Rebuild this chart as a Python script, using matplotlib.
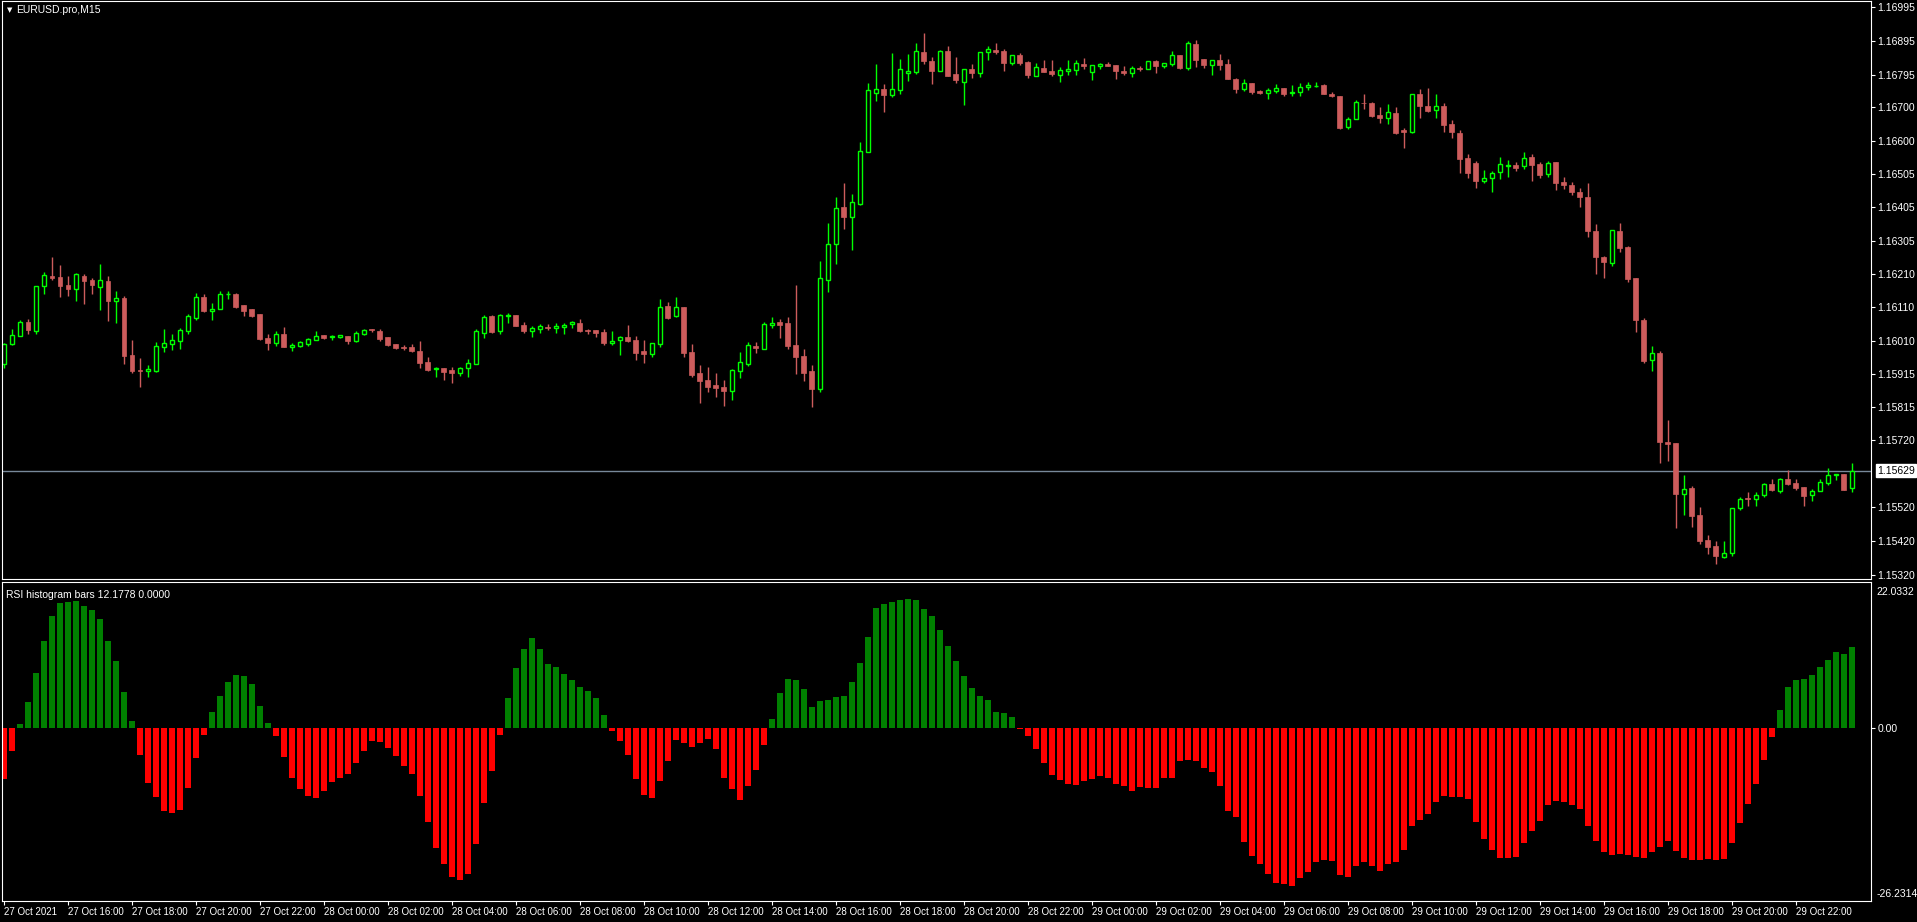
import matplotlib
matplotlib.use("Agg")
import matplotlib.pyplot as plt
import numpy as np
import pandas as pd

plt.rcParams["font.family"] = ["Liberation Sans", "DejaVu Sans"]

# EURUSD M15 candles, 27 Oct 2021 14:00 -> 29 Oct 2021 23:45
opens = [
 1.15942,1.16003,1.16027,1.16067,1.16041,1.16174,1.16203,1.16200,1.16176,1.16165,
 1.16203,1.16191,1.16171,1.16188,1.16130,1.16138,1.15970,1.15925,1.15924,1.15923,
 1.15994,1.16003,1.16012,1.16041,1.16079,1.16141,1.16100,1.16106,1.16149,1.16150,
 1.16117,1.16105,1.16091,1.16020,1.16005,1.16032,1.15994,1.15996,1.16003,1.16015,
 1.16029,1.16023,1.16023,1.16026,1.16011,1.16033,1.16046,1.16041,1.16023,1.16002,
 1.15993,1.15993,1.15982,1.15949,1.15927,1.15931,1.15925,1.15917,1.15931,1.15943,
 1.16036,1.16085,1.16041,1.16086,1.16088,1.16058,1.16041,1.16046,1.16052,1.16050,
 1.16053,1.16061,1.16064,1.16044,1.16043,1.16038,1.16006,1.16013,1.16023,1.16014,
 1.15982,1.15974,1.16003,1.16114,1.16084,1.16111,1.15979,1.15917,1.15896,1.15881,
 1.15875,1.15863,1.15923,1.15944,1.15996,1.15988,1.16059,1.16067,1.16064,1.15999,
 1.15967,1.15923,1.15869,1.16191,1.16297,1.16406,1.16377,1.16415,1.16569,1.16743,
 1.16754,1.16737,1.16751,1.16803,1.16805,1.16864,1.16837,1.16807,1.16867,1.16799,
 1.16776,1.16813,1.16803,1.16863,1.16869,1.16867,1.16832,1.16855,1.16834,1.16794,
 1.16816,1.16808,1.16797,1.16808,1.16811,1.16828,1.16806,1.16823,1.16828,1.16825,
 1.16808,1.16803,1.16816,1.16814,1.16837,1.16823,1.16829,1.16855,1.16816,1.16887,
 1.16843,1.16826,1.16840,1.16828,1.16784,1.16755,1.16772,1.16749,1.16744,1.16749,
 1.16758,1.16743,1.16746,1.16760,1.16762,1.16765,1.16741,1.16733,1.16641,1.16665,
 1.16714,1.16712,1.16679,1.16669,1.16685,1.16632,1.16629,1.16741,1.16705,1.16692,
 1.16705,1.16650,1.16626,1.16552,1.16537,1.16482,1.16491,1.16510,1.16528,1.16531,
 1.16528,1.16554,1.16532,1.16503,1.16538,1.16481,1.16470,1.16452,1.16435,1.16336,
 1.16258,1.16240,1.16336,1.16289,1.16196,1.16074,1.15956,1.15977,1.15713,1.15711,
 1.15560,1.15577,1.15498,1.15423,1.15406,1.15373,1.15387,1.15519,1.15548,1.15546,
 1.15557,1.15590,1.15569,1.15603,1.15593,1.15579,1.15557,1.15569,1.15593,1.15615,
 1.15620,1.15577]
highs = [
 1.16006,1.16045,1.16073,1.16075,1.16174,1.16215,1.16259,1.16235,1.16203,1.16212,
 1.16209,1.16197,1.16238,1.16203,1.16159,1.16144,1.16014,1.15961,1.15940,1.16008,
 1.16046,1.16032,1.16049,1.16091,1.16153,1.16150,1.16123,1.16159,1.16159,1.16152,
 1.16118,1.16106,1.16092,1.16032,1.16041,1.16052,1.16005,1.16012,1.16021,1.16041,
 1.16029,1.16030,1.16029,1.16026,1.16041,1.16046,1.16046,1.16046,1.16023,1.16002,
 1.15999,1.16002,1.16011,1.15964,1.15934,1.15931,1.15934,1.15934,1.15958,1.16046,
 1.16088,1.16088,1.16091,1.16094,1.16088,1.16067,1.16055,1.16061,1.16061,1.16064,
 1.16064,1.16070,1.16076,1.16046,1.16043,1.16046,1.16041,1.16026,1.16058,1.16026,
 1.16014,1.16006,1.16135,1.16126,1.16141,1.16112,1.16002,1.15940,1.15934,1.15917,
 1.15896,1.15928,1.15979,1.16008,1.16008,1.16067,1.16082,1.16076,1.16082,1.16176,
 1.15987,1.15940,1.16247,1.16359,1.16436,1.16477,1.16445,1.16598,1.16772,1.16828,
 1.16769,1.16861,1.16843,1.16857,1.16890,1.16920,1.16849,1.16869,1.16881,1.16849,
 1.16813,1.16828,1.16864,1.16881,1.16890,1.16872,1.16855,1.16861,1.16837,1.16831,
 1.16840,1.16840,1.16819,1.16840,1.16840,1.16846,1.16825,1.16831,1.16834,1.16825,
 1.16822,1.16822,1.16822,1.16837,1.16840,1.16831,1.16867,1.16855,1.16896,1.16899,
 1.16843,1.16840,1.16858,1.16843,1.16787,1.16784,1.16772,1.16751,1.16758,1.16768,
 1.16758,1.16766,1.16772,1.16775,1.16775,1.16768,1.16747,1.16735,1.16672,1.16723,
 1.16741,1.16717,1.16701,1.16711,1.16700,1.16640,1.16740,1.16754,1.16758,1.16741,
 1.16714,1.16664,1.16632,1.16564,1.16543,1.16516,1.16514,1.16554,1.16546,1.16539,
 1.16570,1.16562,1.16540,1.16543,1.16540,1.16496,1.16481,1.16461,1.16478,1.16357,
 1.16263,1.16339,1.16360,1.16290,1.16196,1.16078,1.15995,1.15982,1.15777,1.15711,
 1.15617,1.15582,1.15520,1.15440,1.15421,1.15421,1.15519,1.15552,1.15567,1.15567,
 1.15592,1.15604,1.15606,1.15630,1.15603,1.15581,1.15574,1.15605,1.15635,1.15620,
 1.15620,1.15651]
lows = [
 1.15932,1.15999,1.16026,1.16033,1.16033,1.16151,1.16192,1.16142,1.16144,1.16129,
 1.16121,1.16151,1.16102,1.16070,1.16065,1.15944,1.15918,1.15876,1.15906,1.15920,
 1.15979,1.15985,1.15988,1.16033,1.16074,1.16097,1.16073,1.16106,1.16136,1.16109,
 1.16085,1.16082,1.16013,1.15984,1.15996,1.15993,1.15982,1.15993,1.15996,1.16013,
 1.16017,1.16014,1.16020,1.16002,1.16008,1.16029,1.16038,1.16011,1.15996,1.15987,
 1.15984,1.15979,1.15931,1.15922,1.15905,1.15896,1.15887,1.15908,1.15905,1.15943,
 1.16020,1.16035,1.16032,1.16064,1.16055,1.16035,1.16023,1.16035,1.16043,1.16035,
 1.16032,1.16049,1.16038,1.16032,1.16023,1.15999,1.15999,1.15970,1.16008,1.15956,
 1.15947,1.15965,1.15994,1.16076,1.16082,1.15965,1.15905,1.15828,1.15861,1.15846,
 1.15819,1.15837,1.15903,1.15938,1.15976,1.15988,1.16049,1.16019,1.15987,1.15914,
 1.15893,1.15816,1.15861,1.16156,1.16238,1.16341,1.16279,1.16412,1.16569,1.16719,
 1.16687,1.16731,1.16740,1.16778,1.16799,1.16828,1.16769,1.16807,1.16793,1.16772,
 1.16707,1.16787,1.16790,1.16840,1.16858,1.16808,1.16825,1.16825,1.16787,1.16793,
 1.16805,1.16793,1.16775,1.16796,1.16796,1.16813,1.16781,1.16813,1.16822,1.16784,
 1.16796,1.16790,1.16808,1.16814,1.16802,1.16816,1.16822,1.16813,1.16810,1.16819,
 1.16816,1.16796,1.16810,1.16784,1.16743,1.16749,1.16740,1.16740,1.16725,1.16743,
 1.16735,1.16735,1.16735,1.16751,1.16759,1.16739,1.16731,1.16637,1.16635,1.16665,
 1.16696,1.16673,1.16655,1.16651,1.16623,1.16579,1.16624,1.16668,1.16688,1.16668,
 1.16627,1.16609,1.16506,1.16491,1.16461,1.16477,1.16450,1.16488,1.16494,1.16512,
 1.16517,1.16482,1.16491,1.16496,1.16456,1.16458,1.16441,1.16407,1.16319,1.16210,
 1.16197,1.16232,1.16273,1.16185,1.16039,1.15945,1.15922,1.15652,1.15656,1.15459,
 1.15497,1.15462,1.15412,1.15382,1.15352,1.15370,1.15378,1.15512,1.15524,1.15524,
 1.15550,1.15568,1.15563,1.15587,1.15571,1.15524,1.15539,1.15569,1.15587,1.15601,
 1.15571,1.15566]
closes = [
 1.16001,1.16028,1.16067,1.16043,1.16172,1.16205,1.16197,1.16174,1.16165,1.16209,
 1.16188,1.16176,1.16190,1.16129,1.16138,1.15967,1.15922,1.15923,1.15928,1.15995,
 1.16004,1.16014,1.16043,1.16084,1.16140,1.16100,1.16105,1.16150,1.16151,1.16111,
 1.16100,1.16085,1.16017,1.16005,1.16032,1.15993,1.16000,1.16008,1.16017,1.16026,
 1.16020,1.16027,1.16028,1.16011,1.16035,1.16043,1.16043,1.16017,1.15999,1.15990,
 1.15991,1.15982,1.15946,1.15925,1.15931,1.15920,1.15917,1.15931,1.15946,1.16041,
 1.16082,1.16038,1.16088,1.16088,1.16055,1.16041,1.16049,1.16055,1.16050,1.16055,
 1.16058,1.16066,1.16041,1.16042,1.16035,1.16005,1.16011,1.16022,1.16011,1.15976,
 1.15972,1.16004,1.16111,1.16079,1.16111,1.15977,1.15911,1.15893,1.15875,1.15872,
 1.15863,1.15925,1.15949,1.15999,1.15990,1.16061,1.16064,1.16058,1.15996,1.15964,
 1.15917,1.15869,1.16197,1.16297,1.16403,1.16377,1.16421,1.16572,1.16751,1.16754,
 1.16737,1.16754,1.16813,1.16808,1.16867,1.16837,1.16808,1.16867,1.16793,1.16781,
 1.16813,1.16802,1.16864,1.16872,1.16864,1.16831,1.16855,1.16831,1.16796,1.16819,
 1.16805,1.16799,1.16810,1.16812,1.16831,1.16822,1.16825,1.16828,1.16822,1.16808,
 1.16802,1.16816,1.16813,1.16837,1.16822,1.16831,1.16855,1.16816,1.16890,1.16840,
 1.16825,1.16840,1.16825,1.16784,1.16754,1.16772,1.16746,1.16743,1.16751,1.16757,
 1.16741,1.16746,1.16761,1.16765,1.16764,1.16741,1.16733,1.16640,1.16666,1.16717,
 1.16712,1.16676,1.16668,1.16687,1.16626,1.16628,1.16740,1.16703,1.16690,1.16705,
 1.16647,1.16627,1.16549,1.16506,1.16482,1.16493,1.16508,1.16534,1.16531,1.16520,
 1.16551,1.16530,1.16502,1.16537,1.16476,1.16471,1.16450,1.16436,1.16335,1.16259,
 1.16243,1.16338,1.16284,1.16193,1.16072,1.15953,1.15976,1.15712,1.15706,1.15561,
 1.15575,1.15496,1.15421,1.15403,1.15376,1.15387,1.15517,1.15546,1.15546,1.15558,
 1.15589,1.15571,1.15603,1.15590,1.15577,1.15553,1.15569,1.15596,1.15617,1.15618,
 1.15573,1.15629]

# RSI histogram values, one per candle
rsi_hist = [
 -7.74,-3.52,0.55,3.87,8.24,13.07,16.83,18.79,18.94,19.10,
 18.34,17.74,16.38,13.07,10.05,5.38,1.01,-4.12,-8.34,-10.45,
 -12.56,-12.86,-12.41,-9.10,-4.57,-1.11,2.36,4.77,6.88,7.94,
 7.79,6.58,3.27,0.70,-1.26,-4.42,-7.59,-9.25,-10.30,-10.60,
 -9.55,-8.19,-7.59,-6.98,-5.33,-3.52,-2.01,-2.16,-3.07,-4.27,
 -5.78,-6.98,-10.30,-14.22,-18.14,-20.70,-22.66,-23.12,-22.21,-17.54,
 -11.36,-6.53,-1.11,4.47,9.00,11.86,13.52,11.86,9.60,9.15,
 8.09,7.19,6.13,5.53,4.47,1.91,-0.50,-2.01,-4.12,-7.74,
 -10.15,-10.60,-8.04,-5.03,-1.86,-2.31,-2.91,-2.31,-1.71,-3.22,
 -7.59,-9.25,-10.90,-8.79,-6.38,-2.61,1.31,5.23,7.34,7.19,
 5.83,3.12,4.02,4.17,4.62,4.77,6.88,9.75,13.67,18.04,
 18.74,19.05,19.25,19.50,19.35,17.89,16.83,14.72,12.31,10.05,
 7.79,5.98,4.77,4.17,2.36,2.21,1.61,-0.20,-1.26,-3.22,
 -5.33,-7.14,-7.89,-8.49,-8.64,-8.04,-7.74,-7.29,-7.59,-8.49,
 -8.79,-9.55,-8.94,-9.10,-9.10,-7.59,-7.59,-5.03,-4.87,-5.03,
 -6.08,-6.68,-8.79,-12.56,-13.47,-17.24,-19.35,-20.70,-22.21,-23.57,
 -23.72,-24.02,-22.81,-21.91,-20.40,-20.10,-20.25,-22.36,-22.66,-21.01,
 -20.40,-21.01,-21.76,-20.70,-20.40,-18.44,-14.82,-13.92,-13.02,-11.21,
 -10.30,-10.45,-10.45,-10.75,-14.22,-16.78,-18.44,-19.65,-19.65,-19.50,
 -17.39,-15.58,-14.07,-11.66,-11.06,-11.21,-11.66,-12.26,-14.82,-17.09,
 -18.89,-19.20,-19.05,-19.20,-19.50,-19.80,-18.89,-17.99,-17.09,-18.74,
 -19.65,-20.10,-20.10,-19.95,-20.10,-19.95,-17.39,-14.37,-11.51,-8.49,
 -4.87,-1.41,2.66,6.13,7.19,7.34,7.94,9.15,10.20,11.41,
 11.11,12.16]

price_ticks = [1.16995, 1.16895, 1.16795, 1.16700, 1.16600, 1.16505, 1.16405,
               1.16305, 1.16210, 1.16110, 1.16010, 1.15915, 1.15815, 1.15720,
               1.15520, 1.15420, 1.15320]
last_price = 1.15629
hist_max, hist_min = 22.0332, -26.2314
indicator_label = "RSI histogram bars 12.1778 0.0000"

times = pd.date_range("2021-10-27 14:00", periods=len(closes), freq="15min")

W, H = 1917, 922
FS = 7.5
fig = plt.figure(figsize=(W / 100, H / 100), dpi=100, facecolor="black")
ax = fig.add_axes([0.001, (H - 579) / H, 1869 / W, 578 / H], facecolor="black")
ax2 = fig.add_axes([0.001, (H - 901) / H, 1869 / W, 319 / H], facecolor="black")

bull, bear = "#00ff00", "#cd5c5c"
o = np.array(opens); c = np.array(closes)
x = np.arange(len(c))
up = c >= o
cols = np.where(up, bull, bear)

# wicks and bodies
ax.vlines(x, lows, highs, colors=cols, lw=1, zorder=1)
bot = np.minimum(o, c)
hgt = np.maximum(np.abs(c - o), 0.000015)
ax.bar(x[up], hgt[up], bottom=bot[up], width=0.55, facecolor="black",
       edgecolor=bull, lw=1, zorder=2)
ax.bar(x[~up], hgt[~up], bottom=bot[~up], width=0.6, facecolor=bear,
       edgecolor=bear, lw=0.5, zorder=2)

ax.axhline(last_price, color="#778899", lw=1, zorder=0)

xlim = (-0.25, 233.4)
ax.set_xlim(*xlim)
ax.set_ylim(1.15309, 1.17014)
ax.set_xticks([])
ax.yaxis.tick_right()
ax.set_yticks(price_ticks)
ax.set_yticklabels([f"{p:.5f}" for p in price_ticks])
ax.tick_params(axis="y", colors="white", labelsize=FS, length=3, pad=1.5)
for s in ax.spines.values():
    s.set_color("white")
ax.text(1.0032, last_price, f"{last_price:.5f}", transform=ax.get_yaxis_transform(),
        color="black", fontsize=FS, va="center", ha="left",
        bbox=dict(facecolor="white", edgecolor="white", pad=1))
ax.text(0.0025, 0.985, "\u25bc", transform=ax.transAxes, color="white",
        fontsize=5, va="center", family="DejaVu Sans")
ax.text(0.0075, 0.985, "EURUSD.pro,M15", transform=ax.transAxes, color="white",
        fontsize=FS, va="center")

# RSI histogram subwindow
hv = np.array(rsi_hist)
ax2.bar(x, hv, width=0.8, color=np.where(hv >= 0, "#008000", "#ff0000"))
ax2.set_xlim(*xlim)
ax2.set_ylim(hist_min, hist_max)
ax2.yaxis.tick_right()
ax2.set_yticks([0])
ax2.set_yticklabels(["0.00"])
ax2.tick_params(axis="y", colors="white", labelsize=FS, length=3, pad=1.5)
ax2.text(1.003, 0.985, f"{hist_max:.4f}", transform=ax2.transAxes, color="white",
         fontsize=FS, va="top")
ax2.text(1.003, 0.005, f"{hist_min:.4f}", transform=ax2.transAxes, color="white",
         fontsize=FS, va="bottom")
ax2.text(0.002, 0.975, indicator_label, transform=ax2.transAxes, color="white",
         fontsize=FS, va="top")
for s in ax2.spines.values():
    s.set_color("white")

tick_idx = list(range(0, len(c), 8))
labels = [times[0].strftime("%d %b %Y")] + [times[i].strftime("%d %b %H:%M") for i in tick_idx[1:]]
ax2.set_xticks(tick_idx)
ax2.set_xticklabels(labels, ha="left")
ax2.tick_params(axis="x", colors="white", labelsize=7, length=3, pad=1)

fig.savefig("out.png", dpi=100, facecolor="black")
